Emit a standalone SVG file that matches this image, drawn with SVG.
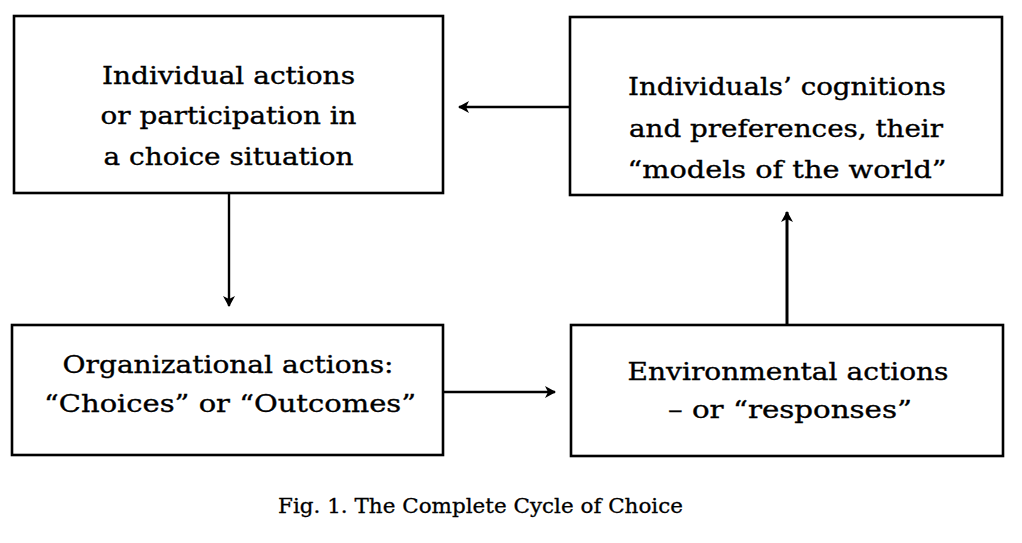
<svg xmlns="http://www.w3.org/2000/svg" width="1022" height="543" viewBox="0 0 1022 543">
  <style>
    .box { fill: #ffffff; stroke: #000000; stroke-width: 2.6; }
    .lbl { font-family: "DejaVu Serif", "Liberation Serif", serif; font-size: 24px; fill: #000000; stroke: #000000; stroke-width: 0.35; text-anchor: middle; }
    .cap { font-family: "DejaVu Serif", "Liberation Serif", serif; font-size: 21px; fill: #000000; stroke: #000000; stroke-width: 0.3; text-anchor: middle; }
    .conn { fill: none; stroke: #000000; stroke-width: 2.4; marker-end: url(#head); }
  </style>
  <defs>
    <marker id="head" markerUnits="userSpaceOnUse" viewBox="-12 -7 14 14" refX="0" refY="0" markerWidth="14" markerHeight="14" orient="auto">
      <path d="M1,0 L-10,-6 L-7,0 L-10,6 Z" fill="#000000"/>
    </marker>
  </defs>
  <rect width="1022" height="543" fill="#ffffff"/>

  <g id="connectors">
    <line class="conn" x1="570" y1="107" x2="459" y2="107"/>
    <line class="conn" x1="229" y1="193" x2="229" y2="306"/>
    <line class="conn" x1="443" y1="392" x2="555" y2="392"/>
    <line class="conn" x1="787" y1="325" x2="787" y2="212" style="stroke-width:3"/>
  </g>

  <g id="node-individual-actions">
    <rect class="box" x="14" y="16" width="429" height="177"/>
    <text class="lbl" x="228.5" y="84" textLength="253" lengthAdjust="spacingAndGlyphs">Individual actions</text>
    <text class="lbl" x="228.5" y="124" textLength="256" lengthAdjust="spacingAndGlyphs">or participation in</text>
    <text class="lbl" x="228.5" y="165" textLength="250" lengthAdjust="spacingAndGlyphs">a choice situation</text>
  </g>

  <g id="node-cognitions">
    <rect class="box" x="570" y="17" width="432" height="178"/>
    <text class="lbl" x="787" y="95" textLength="318" lengthAdjust="spacingAndGlyphs">Individuals’ cognitions</text>
    <text class="lbl" x="786" y="137" textLength="314" lengthAdjust="spacingAndGlyphs">and preferences, their</text>
    <text class="lbl" x="787" y="178" textLength="319" lengthAdjust="spacingAndGlyphs">“models of the world”</text>
  </g>

  <g id="node-organizational-actions">
    <rect class="box" x="12" y="325" width="431" height="130"/>
    <text class="lbl" x="228" y="373" textLength="331" lengthAdjust="spacingAndGlyphs">Organizational actions:</text>
    <text class="lbl" x="230" y="412" textLength="372" lengthAdjust="spacingAndGlyphs">“Choices” or “Outcomes”</text>
  </g>

  <g id="node-environmental-actions">
    <rect class="box" x="571" y="325" width="432" height="131"/>
    <text class="lbl" x="788" y="380" textLength="321" lengthAdjust="spacingAndGlyphs">Environmental actions</text>
    <text class="lbl" x="790" y="418" textLength="244" lengthAdjust="spacingAndGlyphs">– or “responses”</text>
  </g>

  <text class="cap" x="480.5" y="513" textLength="405" lengthAdjust="spacingAndGlyphs">Fig. 1. The Complete Cycle of Choice</text>
</svg>
